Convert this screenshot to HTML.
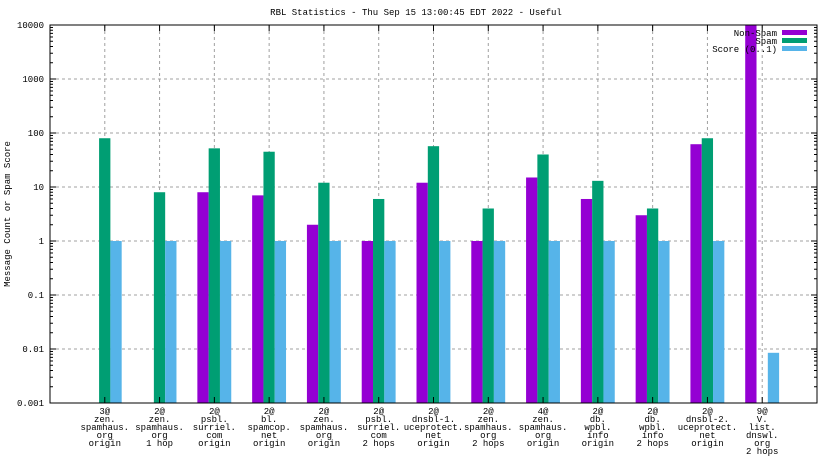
<!DOCTYPE html>
<html><head><meta charset="utf-8"><style>
body{margin:0;background:#fff;}
svg text{font-family:"Liberation Mono",monospace;font-size:9px;fill:#000;}
</style></head><body>
<svg id="chart" width="832" height="468" viewBox="0 0 832 468">
<text x="416" y="15" text-anchor="middle">RBL Statistics - Thu Sep 15 13:00:45 EDT 2022 - Useful</text>
<text transform="translate(10,214) rotate(-90)" text-anchor="middle">Message Count or Spam Score</text>
<g id="grid"></g><g id="bars"></g><g id="axes"></g>
<g>
<text x="777" y="36" text-anchor="end">Non-Spam</text>
<rect x="782" y="30" width="25" height="5" fill="#9400d3"/>
<text x="777" y="44" text-anchor="end">Spam</text>
<rect x="782" y="38" width="25" height="5" fill="#009e73"/>
<text x="777" y="52" text-anchor="end">Score (0..1)</text>
<rect x="782" y="46" width="25" height="5" fill="#56b4e9"/>
</g>
</svg>
<script>
const categories=[["3@","zen.","spamhaus.","org","origin"],["2@","zen.","spamhaus.","org","1 hop"],["2@","psbl.","surriel.","com","origin"],["2@","bl.","spamcop.","net","origin"],["2@","zen.","spamhaus.","org","origin"],["2@","psbl.","surriel.","com","2 hops"],["2@","dnsbl-1.","uceprotect.","net","origin"],["2@","zen.","spamhaus.","org","2 hops"],["4@","zen.","spamhaus.","org","origin"],["2@","db.","wpbl.","info","origin"],["2@","db.","wpbl.","info","2 hops"],["2@","dnsbl-2.","uceprotect.","net","origin"],["9@","V.","list.","dnswl.","org","2 hops"]];
const nonSpam=[0,0,8,7,2,1,12,1,15,6,3,62,12000];
const spam=[80,8,52,45,12,6,57,4,40,13,4,80,0];
const score=[1,1,1,1,1,1,1,1,1,1,1,1,0.0085];
const yTicks=[0.001,0.01,0.1,1,10,100,1000,10000];
const yTickLabels=["0.001","0.01","0.1","1","10","100","1000","10000"];
const L=50,R=817,T=25,B=403;
const NS="http://www.w3.org/2000/svg";
function y(v){const lv=Math.log10(Math.max(v,1e-3));const c=Math.min(Math.max(lv,-3),4);return B-(c+3)/7*(B-T);}
function xc(i){return L+(R-L)/(categories.length+1)*(i+1);}
function mk(tag,attrs,parent){const e=document.createElementNS(NS,tag);for(const k in attrs)e.setAttribute(k,attrs[k]);parent.appendChild(e);return e;}
const grid=document.getElementById('grid'),bars=document.getElementById('bars'),axes=document.getElementById('axes');
yTicks.forEach((t,i)=>{
  const yy=y(t);
  if(i>0&&i<yTicks.length-1){const g=mk('line',{x1:L,x2:R,y1:yy,y2:yy,stroke:'#a0a0a0','stroke-dasharray':'3,3','stroke-width':1},grid);
  
  }
  const tl=mk('text',{x:L-6,y:yy+3,'text-anchor':'end'},axes);tl.textContent=yTickLabels[i];
  
  
  mk('line',{x1:L,x2:L+6,y1:yy,y2:yy,stroke:'#000'},axes);
  mk('line',{x1:R,x2:R-6,y1:yy,y2:yy,stroke:'#000'},axes);
  if(i<yTicks.length-1){for(let m=2;m<10;m++){const my=y(t*m);mk('line',{x1:L,x2:L+3,y1:my,y2:my,stroke:'#000'},axes);mk('line',{x1:R,x2:R-3,y1:my,y2:my,stroke:'#000'},axes);}}
});
const cols=['#9400d3','#009e73','#56b4e9'];
const names=['bar-nonspam','bar-spam','bar-score'];
categories.forEach((c,i)=>{
  const cx=xc(i);
  const g=mk('line',{x1:cx,x2:cx,y1:T,y2:B,stroke:'#a0a0a0','stroke-dasharray':'3,3'},grid);
  
  
  mk('line',{x1:cx,x2:cx,y1:B,y2:B-6,stroke:'#000'},axes);
  mk('line',{x1:cx,x2:cx,y1:T,y2:T+6,stroke:'#000'},axes);
  [nonSpam[i],spam[i],score[i]].forEach((v,k)=>{
    if(v<=0)return;
    const x0=cx-17+k*11.3;const yy=y(v);
    const r=mk('rect',{x:x0,y:yy,width:11.3,height:B-yy,fill:cols[k]},bars);
    
    
  });
  c.forEach((line,j)=>{
    const t=mk('text',{x:cx,y:414+j*8,'text-anchor':'middle'},axes);t.textContent=line;
    
    
  });
});
const fr=mk('rect',{x:L,y:T,width:R-L,height:B-T,fill:'none',stroke:'#000','stroke-width':1},axes);


</script>
</body></html>
